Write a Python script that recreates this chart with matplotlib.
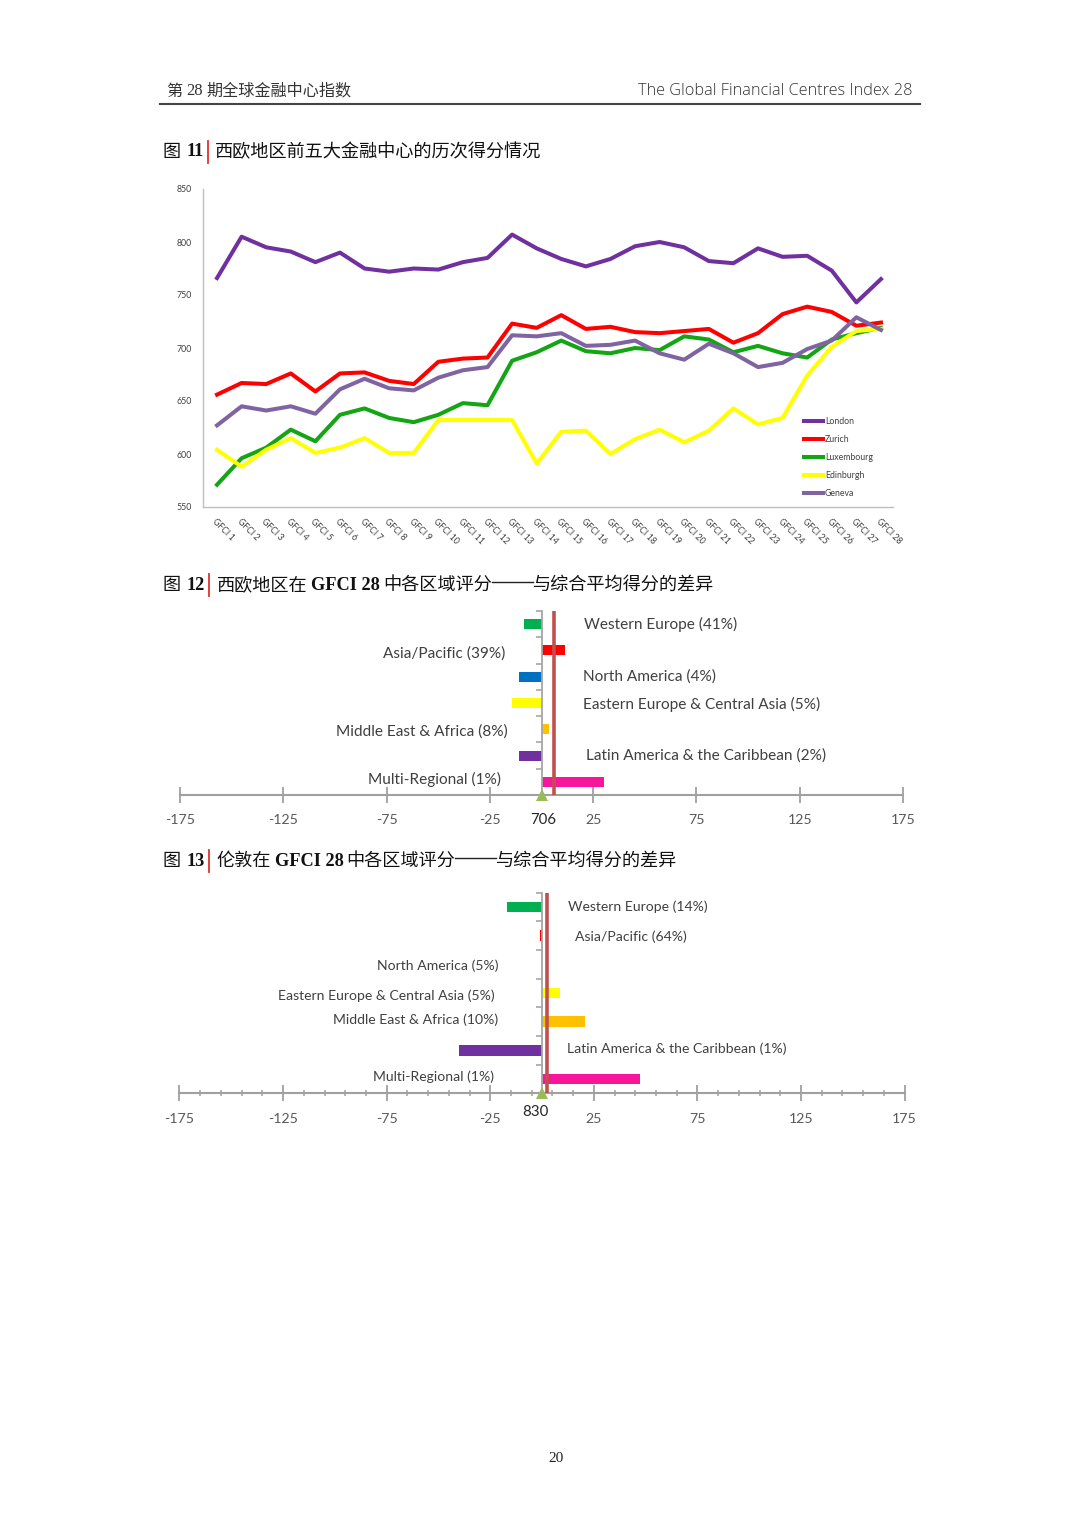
import matplotlib
matplotlib.use("Agg")
import matplotlib.pyplot as plt
from matplotlib.lines import Line2D
from matplotlib.ticker import FixedLocator

# ---------------- data ----------------
periods = ["GFCI 1", "GFCI 2", "GFCI 3", "GFCI 4", "GFCI 5", "GFCI 6", "GFCI 7",
           "GFCI 8", "GFCI 9", "GFCI 10", "GFCI 11", "GFCI 12", "GFCI 13", "GFCI 14",
           "GFCI 15", "GFCI 16", "GFCI 17", "GFCI 18", "GFCI 19", "GFCI 20", "GFCI 21",
           "GFCI 22", "GFCI 23", "GFCI 24", "GFCI 25", "GFCI 26", "GFCI 27", "GFCI 28"]
london = [766, 805, 795, 791, 781, 790, 775, 772, 775, 774, 781, 785, 807, 794,
          784, 777, 784, 796, 800, 795, 782, 780, 794, 786, 787, 773, 743, 765]
zurich = [656, 667, 666, 676, 659, 676, 677, 669, 666, 687, 690, 691, 723, 719,
          731, 718, 720, 715, 714, 716, 718, 705, 714, 732, 739, 734, 721, 724]
luxembourg = [571, 596, 606, 623, 612, 637, 643, 634, 630, 637, 648, 646, 688, 696,
              707, 697, 695, 700, 698, 711, 708, 696, 702, 695, 691, 708, 714, 719]
edinburgh = [604, 588, 604, 615, 601, 606, 615, 601, 601, 632, 632, 632, 632, 591,
             621, 622, 600, 614, 623, 611, 622, 643, 628, 634, 674, 701, 716, 718]
geneva = [627, 645, 641, 645, 638, 661, 671, 662, 660, 672, 679, 682, 712, 711,
          714, 702, 703, 707, 695, 689, 704, 695, 682, 686, 699, 707, 729, 717]
city_names = ["London", "Zurich", "Luxembourg", "Edinburgh", "Geneva"]
yticks_line = [550, 600, 650, 700, 750, 800, 850]

regions1 = ["Western Europe (41%)", "Asia/Pacific (39%)", "North America (4%)",
            "Eastern Europe & Central Asia (5%)", "Middle East & Africa (8%)",
            "Latin America & the Caribbean (2%)", "Multi-Regional (1%)"]
diff1 = [-8.4, 11.5, -10.8, -14.2, 3.4, -11.1, 30.3]
avg1 = "706"
marker1 = 6.2

regions2 = ["Western Europe (14%)", "Asia/Pacific (64%)", "North America (5%)",
            "Eastern Europe & Central Asia (5%)", "Middle East & Africa (10%)",
            "Latin America & the Caribbean (1%)", "Multi-Regional (1%)"]
diff2 = [-16.9, -1.0, 0.0, 8.6, 20.7, -40.2, 47.4]
avg2 = "830"
marker2 = 2.6

diff_ticks = [-175, -125, -75, -25, 25, 75, 125, 175]
diff_ticklabels = ["-175", "-125", "-75", "-25", "25", "75", "125", "175"]

# ---------------- styles / layout ----------------
plt.rcParams['font.family'] = ['Lato', 'Noto Sans CJK SC', 'DejaVu Sans']
W, H = 1080, 1527
fig = plt.figure(figsize=(W / 100, H / 100), dpi=100)
fig.patch.set_facecolor("white")


def fx(x):
    return x / W


def fy(y):
    return 1 - y / H


CJK = ['Noto Sans CJK SC', 'DejaVu Sans']
SERIF = ['Liberation Serif', 'DejaVu Serif']
renderer = fig.canvas.get_renderer()


def draw_pieces(x_px, y_px, pieces):
    x = x_px
    for kind, content, kw, gap in pieces:
        if kind == 'bar':
            fig.add_artist(Line2D([fx(x), fx(x)], [fy(y_px - 11), fy(y_px + 11)],
                                  color='#E03030', lw=1.3))
            x += gap
        elif kind == 'dash':
            fig.add_artist(Line2D([fx(x), fx(x + gap)], [fy(y_px - 3), fy(y_px - 3)],
                                  color='#222222', lw=1.0))
            x += gap
        else:
            t = fig.text(fx(x), fy(y_px), content, ha='left', va='center', **kw)
            bb = t.get_window_extent(renderer)
            x += bb.width + gap


# header
draw_pieces(166, 91, [
    ('t', '第', dict(family=CJK, fontsize=11.6, color='#333333'), 4),
    ('t', '28', dict(family=SERIF, fontsize=12, color='#333333'), 4),
    ('t', '期全球金融中心指数', dict(family=CJK, fontsize=11.6, color='#333333'), 0),
])
fig.text(fx(913), fy(91), "The Global Financial Centres Index 28", ha='right', va='center',
         family=['Open Sans', 'DejaVu Sans'], fontsize=11.7, fontweight='light',
         color='#333333')
fig.add_artist(Line2D([fx(160), fx(920)], [fy(103.5), fy(103.5)], color='#444444', lw=1.5))

title_cjk = dict(family=CJK, fontsize=13.1, color='#111111')
title_num = dict(family=SERIF, fontsize=13.2, fontweight='bold', color='#111111')

draw_pieces(163, 152, [
    ('t', '图', title_cjk, 5),
    ('t', '11', title_num, 5),
    ('bar', '', {}, 7),
    ('t', '西欧地区前五大金融中心的历次得分情况', title_cjk, 0),
])
draw_pieces(163, 585, [
    ('t', '图', title_cjk, 5),
    ('t', '12', title_num, 5),
    ('bar', '', {}, 7),
    ('t', '西欧地区在', title_cjk, 4),
    ('t', 'GFCI 28', title_num, 3),
    ('t', '中各区域评分', title_cjk, 0),
    ('dash', '', {}, 41),
    ('t', '与综合平均得分的差异', title_cjk, 0),
])
draw_pieces(163, 861, [
    ('t', '图', title_cjk, 5),
    ('t', '13', title_num, 5),
    ('bar', '', {}, 7),
    ('t', '伦敦在', title_cjk, 4),
    ('t', 'GFCI 28', title_num, 3),
    ('t', '中各区域评分', title_cjk, 0),
    ('dash', '', {}, 41),
    ('t', '与综合平均得分的差异', title_cjk, 0),
])

fig.text(fx(556), fy(1458), "20", ha='center', va='center', family=SERIF,
         fontsize=11, color='#222222')

# ---------------- line chart ----------------
ax1 = fig.add_axes([fx(203), fy(507), (893 - 203) / W, (507 - 189) / H])
xs = list(range(len(periods)))
series = [london, zurich, luxembourg, edinburgh, geneva]
colors = ['#7030A0', '#FF0000', '#13A513', '#FFFF00', '#8064A2']
handles = []
for vals, c, name in zip(series, colors, city_names):
    ln, = ax1.plot(xs, vals, color=c, lw=2.9, label=name)
    handles.append(ln)
ax1.set_ylim(550, 850)
ax1.set_xlim(-0.57, 27.49)
ax1.set_yticks(yticks_line)
ax1.set_yticklabels([str(v) for v in yticks_line])
ax1.set_xticks(xs)
ax1.set_xticklabels(periods, rotation=-45, ha='left', va='top', rotation_mode='anchor')
ax1.tick_params(axis='both', length=0, labelsize=6.3, colors='#404040')
ax1.tick_params(axis='y', pad=8)
ax1.tick_params(axis='x', pad=7)
for s in ['top', 'right']:
    ax1.spines[s].set_visible(False)
for s in ['left', 'bottom']:
    ax1.spines[s].set_color('#BFBFBF')
    ax1.spines[s].set_linewidth(1.0)
leg = ax1.legend(handles=handles, loc='upper left', bbox_to_anchor=(0.866, 0.293),
                 frameon=False, fontsize=6.3, handlelength=2.2, handletextpad=0.2,
                 labelspacing=1.02, borderaxespad=0)
for t in leg.get_texts():
    t.set_color('#404040')

# ---------------- bar charts ----------------
bar_colors = ['#00B050', '#FF0000', '#0070C0', '#FFFF00', '#FFC000', '#7030A0', '#F7169B']


def diff_chart(rect, diffs, labels, avg_label, marker_val, label_x, label_dy,
               label_size, minor, avg_pos, tick_pad):
    ax = fig.add_axes(rect)
    n = len(diffs)
    ypos = [n - 1 - i for i in range(n)]
    ax.barh(ypos, diffs, height=0.38, color=bar_colors, zorder=2)
    ax.set_xlim(-175, 175)
    ax.set_ylim(-0.5, n - 0.5)
    for s in ['top', 'right']:
        ax.spines[s].set_visible(False)
    ax.spines['left'].set_position(('data', 0))
    ax.spines['left'].set_color('#A6A6A6')
    ax.spines['left'].set_linewidth(1.3)
    ax.spines['bottom'].set_color('#A0A0A0')
    ax.spines['bottom'].set_linewidth(1.5)
    ax.yaxis.set_major_locator(FixedLocator([k + 0.5 for k in range(n)]))
    ax.set_yticklabels([])
    ax.tick_params(axis='y', direction='out', length=4, width=1.2, color='#A6A6A6')
    ax.set_xticks(diff_ticks)
    ax.set_xticklabels(diff_ticklabels)
    ax.tick_params(axis='x', direction='inout', length=11, width=1.3, color='#A0A0A0',
                   labelsize=10.2, labelcolor='#595959', pad=tick_pad)
    if minor:
        ax.xaxis.set_minor_locator(FixedLocator([v for v in range(-175, 176, 10)
                                                 if (v + 175) % 50 != 0]))
        ax.tick_params(axis='x', which='minor', direction='inout', length=5, width=1.1,
                       color='#A0A0A0')
    ax.axvline(marker_val, color='#C0504D', lw=2.6, zorder=3)
    ax.plot([0], [-0.5], marker='^', color='#9BBB59', ms=8, clip_on=False, zorder=6,
            markeredgewidth=0)
    ax.text(avg_pos[0], avg_pos[1], avg_label, ha='center', va='center',
            fontsize=10.8, color='#262626')
    for yy, lab, lx, dy in zip(ypos, labels, label_x, label_dy):
        ax.text(lx, yy + dy, lab, ha='left' if lx > 0 else 'right', va='center',
                fontsize=label_size, color='#404040')
    ax.patch.set_alpha(0)
    return ax


label_x1 = [20.5, -17.5, 20.0, 20.0, -16.5, 21.5, -19.5]
label_dy1 = [0.0, -0.12, 0.0, -0.04, -0.08, 0.0, 0.08]
diff_chart([fx(180), fy(795), 723 / W, (795 - 611) / H], diff1, regions1, avg1,
           marker1, label_x1, label_dy1, 11.1, False, (1.0, -1.45), 8)

label_x2 = [12.5, 16.0, -21.0, -23.0, -21.0, 12.0, -23.0]
label_dy2 = [0.0, -0.05, -0.05, -0.1, 0.06, 0.04, 0.07]
diff_chart([fx(179.5), fy(1093.3), 725 / W, (1093.3 - 892.7) / H], diff2, regions2,
           avg2, marker2, label_x2, label_dy2, 10.1, True, (-3.0, -1.16), 9)

fig.savefig("out.png", dpi=100, facecolor='white')
